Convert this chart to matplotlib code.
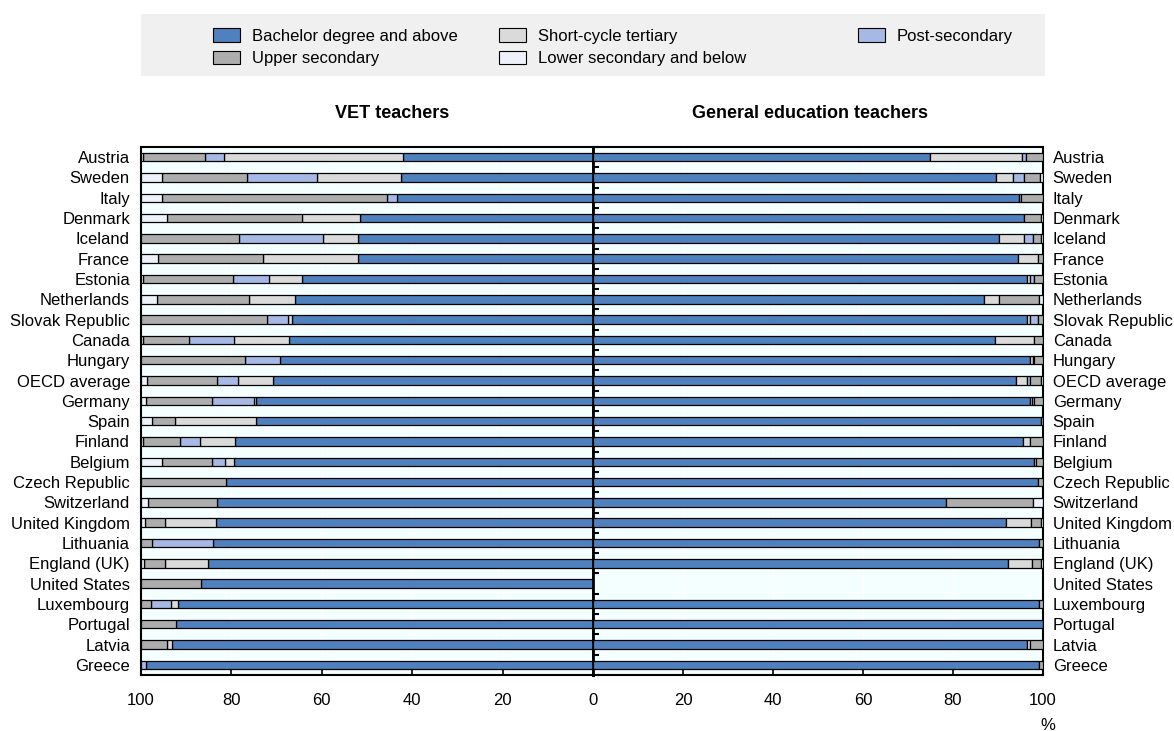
import numpy as np
import matplotlib
matplotlib.use('Agg')
import matplotlib.pyplot as plt
from matplotlib.patches import Patch, Rectangle

plt.rcParams['font.family'] = ['Liberation Sans', 'DejaVu Sans']

countries = ['Austria', 'Sweden', 'Italy', 'Denmark', 'Iceland', 'France', 'Estonia',
             'Netherlands', 'Slovak Republic', 'Canada', 'Hungary', 'OECD average',
             'Germany', 'Spain', 'Finland', 'Belgium', 'Czech Republic', 'Switzerland',
             'United Kingdom', 'Lithuania', 'England (UK)', 'United States', 'Luxembourg',
             'Portugal', 'Latvia', 'Greece']

categories = ['Bachelor degree and above', 'Short-cycle tertiary', 'Post-secondary',
              'Upper secondary', 'Lower secondary and below']

# VET teachers
vet_bachelor = [42.0, 42.4, 43.3, 51.6, 52.0, 52.1, 64.3, 66.0, 66.6, 67.2, 69.3, 70.9, 74.5,
                74.5, 79.1, 79.5, 81.1, 83.1, 83.4, 84.0, 85.2, 86.8, 91.9, 92.3, 93.1, 98.9]
vet_short = [39.6, 18.6, 0, 12.7, 7.7, 21.0, 7.3, 10.0, 0.9, 12.3, 0, 7.6, 0.6,
             18.0, 7.8, 1.9, 0, 0, 11.3, 0, 9.6, 0, 1.4, 0, 1.1, 0]
vet_post = [4.2, 15.5, 2.2, 0, 18.6, 0, 8.1, 0, 4.6, 9.8, 7.8, 4.6, 9.2,
            0, 4.4, 2.9, 0, 0, 0, 13.6, 0, 0, 4.5, 0, 0, 1.1]
vet_upper = [13.7, 18.8, 49.9, 30.0, 21.7, 23.1, 19.9, 20.5, 27.9, 10.3, 22.9, 15.5, 14.7,
             5.0, 8.3, 11.1, 18.9, 15.4, 4.4, 2.4, 4.5, 13.2, 2.2, 7.7, 5.8, 0]
vet_lower = [0.5, 4.7, 4.6, 5.7, 0, 3.8, 0.4, 3.5, 0, 0.4, 0, 1.4, 1.0,
             2.5, 0.4, 4.6, 0, 1.5, 0.9, 0, 0.7, 0, 0, 0, 0, 0]

# General education teachers
nan = float('nan')
gen_bachelor = [74.8, 89.6, 94.6, 95.8, 90.3, 94.4, 96.4, 86.8, 96.4, 89.4, 97.2, 93.9, 97.2,
                99.6, 95.5, 97.9, 98.9, 78.5, 91.8, 99.2, 92.3, nan, 99.2, 99.9, 96.4, 99.2]
gen_short = [20.5, 3.7, 0, 0, 5.4, 4.5, 0.8, 3.5, 0.6, 8.7, 0.5, 2.5, 0.3,
             0, 1.5, 0.6, 0, 0, 5.5, 0, 5.2, nan, 0, 0, 0.6, 0]
gen_post = [0.9, 2.5, 0.5, 0, 2.0, 0, 0.7, 0, 1.9, 0, 0.4, 0.6, 0.6,
            0, 0, 0, 0, 0, 0, 0, 0, nan, 0, 0, 0, 0]
gen_upper = [3.8, 3.6, 4.9, 3.8, 1.9, 1.1, 2.1, 8.7, 1.1, 1.9, 1.9, 2.6, 1.9,
             0.4, 3.0, 1.5, 1.1, 19.3, 2.3, 0.8, 2.1, nan, 0.8, 0.1, 3.0, 0.8]
gen_lower = [0, 0.6, 0, 0.4, 0.4, 0, 0, 1.0, 0, 0, 0, 0.4, 0,
             0, 0, 0, 0, 2.2, 0.4, 0, 0.4, nan, 0, 0, 0, 0]

xticks = [0, 20, 40, 60, 80, 100]

colors = ['#4E81BD', '#DADADA', '#A6B8E4', '#ADADAD', '#EEF1F9']
BG = '#F4FFFF'

W, H = 1174, 731
fig = plt.figure(figsize=(W / 100, H / 100), dpi=100)
Lx, Mx, Rx = 141 / W, 593 / W, 1043 / W
By, Ty = 1 - 675 / H, 1 - 147 / H
axL = fig.add_axes([Lx, By, Mx - Lx, Ty - By])
axR = fig.add_axes([Mx, By, Rx - Mx, Ty - By])

n = len(countries)
y = np.arange(n)


def draw(ax, series):
    left = np.zeros(n)
    for vals, col in zip(series, colors):
        v = np.array(vals, dtype=float)
        vd = v.copy()
        vd[vd == 0] = np.nan
        ax.barh(y, vd, left=left, height=0.42, color=col, edgecolor='black',
                linewidth=0.9, zorder=3)
        left = left + np.nan_to_num(v)


draw(axL, [vet_bachelor, vet_short, vet_post, vet_upper, vet_lower])
draw(axR, [gen_bachelor, gen_short, gen_post, gen_upper, gen_lower])

axL.set_xlim(100, 0)
axR.set_xlim(0, 100)
for ax in (axL, axR):
    ax.set_facecolor(BG)
    ax.set_ylim(n - 0.5, -0.5)
    ax.set_xticks(xticks)
    ax.grid(axis='x', color='white', linewidth=1.0, zorder=0)
    ax.set_axisbelow(True)
    ax.tick_params(axis='x', direction='in', length=5, width=1.2, pad=13, labelsize=12)
    for s in ax.spines.values():
        s.set_linewidth(1.5)
        s.set_color('black')

axL.set_xticklabels([str(t) for t in xticks])
axR.set_xticklabels([''] + [str(t) for t in xticks[1:]])
axL.spines['right'].set_linewidth(2)
axR.spines['left'].set_linewidth(2)

axL.set_yticks(y)
axL.set_yticklabels(countries)
axL.tick_params(axis='y', length=0, pad=8, labelsize=12)

axR.set_yticks(y)
axR.set_yticklabels(countries)
axR.tick_params(axis='y', which='major', left=False, right=False, labelleft=False,
                labelright=True, length=0, pad=7, labelsize=12)
axR.set_yticks(np.arange(-0.5, n, 1.0), minor=True)
axR.tick_params(axis='y', which='minor', left=True, right=False, direction='in',
                length=4, width=1.5)

fig.text(392 / W, 1 - 114 / H, 'VET teachers', ha='center', va='center',
         fontsize=13, fontweight='bold')
fig.text(809.5 / W, 1 - 114 / H, 'General education teachers', ha='center', va='center',
         fontsize=13, fontweight='bold')
fig.text(1048 / W, 1 - 725 / H, '%', ha='center', va='center', fontsize=12)

# legend background
fig.patches.append(Rectangle((141 / W, 1 - 75.7 / H), (1045 - 141) / W, (75.7 - 14) / H,
                             transform=fig.transFigure, facecolor='#F0F0F0',
                             edgecolor='none', zorder=0))

handles = [Patch(facecolor=c, edgecolor='black', linewidth=0.8) for c in colors]
groups = [[0, 3], [1, 4], [2]]
for idxs, xpx in zip(groups, [213, 499, 858]):
    fig.legend([handles[i] for i in idxs], [categories[i] for i in idxs],
               loc='upper left', bbox_to_anchor=(xpx / W, 1 - 28 / H),
               frameon=False, borderpad=0, borderaxespad=0, handlelength=1.62,
               handleheight=0.88, handletextpad=0.72, labelspacing=0.42, fontsize=12)

fig.savefig('out.png', dpi=100)
